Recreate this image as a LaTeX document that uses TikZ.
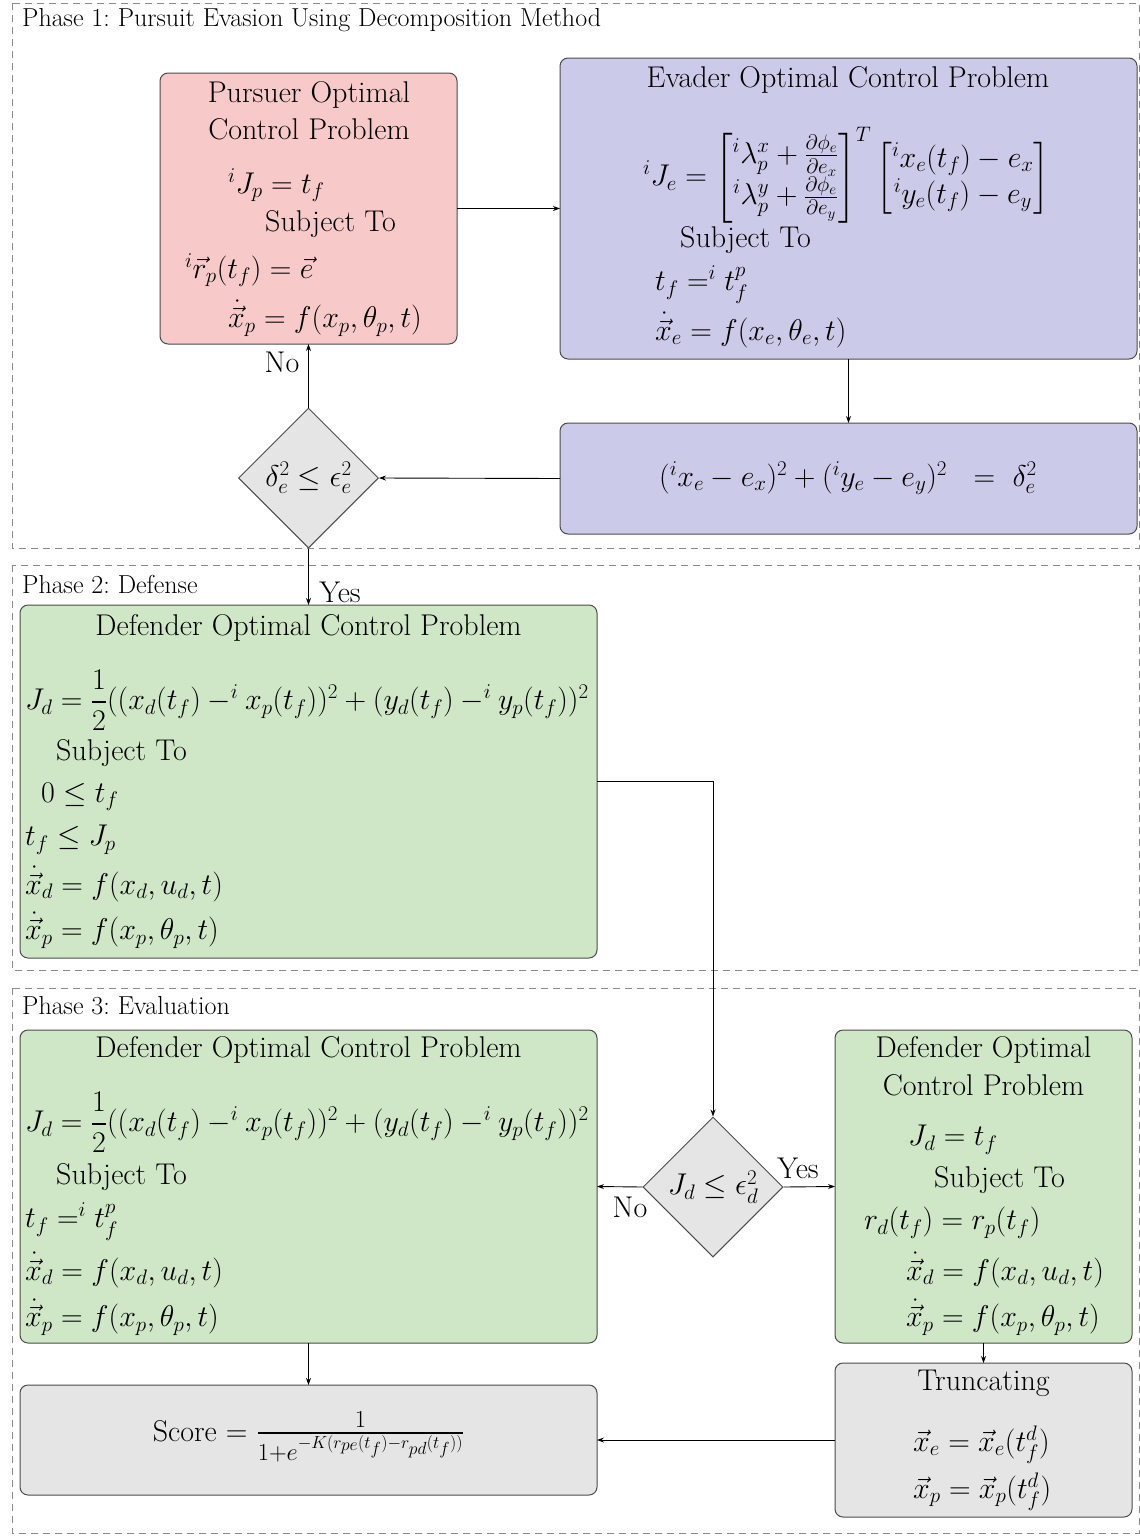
\RequirePackage{fix-cm}
\documentclass[tikz,border=0pt]{standalone}
\usepackage{amsmath,amssymb}
\usetikzlibrary{shapes.geometric,arrows.meta}
\definecolor{pinkfill}{HTML}{F8C9C9}
\definecolor{lavfill}{HTML}{CBCBE9}
\definecolor{greenfill}{HTML}{CFE7C6}
\definecolor{grayfill}{HTML}{E5E5E5}
\definecolor{framegray}{HTML}{8A8A8A}
\newcommand\boxfont{\fontsize{30}{36}\selectfont}
\newcommand\phasefont{\fontsize{26}{31}\selectfont}
\newcommand\fracfont{\fontsize{35}{42}\selectfont}
\tikzset{
  panel/.style={draw=black!70, line width=1pt, rounded corners=8pt, anchor=north west, inner sep=0pt, outer sep=0pt},
  phaseframe/.style={draw=framegray, line width=1pt, dash pattern=on 7pt off 5pt},
  txt/.style={inner sep=0pt, font=\boxfont},
  txtl/.style={inner sep=0pt, font=\boxfont, anchor=west},
  phaselabel/.style={inner sep=0pt, font=\phasefont, anchor=west},
  decision/.style={diamond, draw=black!70, line width=1pt, fill=grayfill, aspect=1, minimum width=140pt, minimum height=140pt, inner sep=0pt, font=\boxfont},
  conn/.style={draw=black, line width=0.9pt, -{Stealth[length=7pt,width=5pt]}},
  lbl/.style={inner sep=0pt, font=\boxfont}
}
\begin{document}
\begin{tikzpicture}[x=1pt,y=-1pt]
\useasboundingbox (0,0) rectangle (1140,1537);
\fill[white] (0,0) rectangle (1140,1537);
% phase frames
\draw[phaseframe] (12,3) rectangle (1139,548);
\draw[phaseframe] (12,565) rectangle (1139,970);
\draw[phaseframe] (12,988) rectangle (1139,1533);
\node[phaselabel] (ph1) at (22,20) {Phase 1:\ Pursuit Evasion Using Decomposition Method};
\node[phaselabel] (ph2) at (22,584) {Phase 2:\ Defense};
\node[phaselabel] (ph3) at (22,1006) {Phase 3:\ Evaluation};

% boxes
\node[panel, fill=pinkfill, minimum width=297pt, minimum height=271pt] (pursuer) at (160,73) {};
\node[panel, fill=lavfill, minimum width=577pt, minimum height=301pt] (evader) at (560,58) {};
\node[panel, fill=lavfill, minimum width=577pt, minimum height=111pt] (delta) at (560,423) {};
\node[decision] (d1) at (308.5,478) {$\delta_e^2 \le \epsilon_e^2$};
\node[panel, fill=greenfill, minimum width=577pt, minimum height=353pt] (def1) at (20,605) {};
\node[panel, fill=greenfill, minimum width=577pt, minimum height=313pt] (def2) at (20,1030) {};
\node[panel, fill=greenfill, minimum width=297pt, minimum height=313pt] (def3) at (835,1030) {};
\node[decision] (d2) at (713,1187) {$J_d \le \epsilon_d^2$};
\node[panel, fill=grayfill, minimum width=297pt, minimum height=154pt] (trunc) at (835,1363) {};
\node[panel, fill=grayfill, minimum width=577pt, minimum height=110pt] (score) at (20,1385) {};

% pursuer text
\node[txt] (p1) at (309,95) {Pursuer Optimal};
\node[txt] (p2) at (309,129) {Control Problem};
\node[txtl] (p3) at (228,185) {${}^{i}J_p = t_f$};
\node[txtl] (p4) at (265,224) {Subject To};
\node[txtl] (p5) at (185,270) {${}^{i}\vec{r}_p(t_f) = \vec{e}$};
\node[txtl] (p6) at (228,318) {$\dot{\vec{x}}_p = f(x_p,\theta_p,t)$};

% evader text
\node[txt] (e1) at (848,80) {Evader Optimal Control Problem};
\node[txtl] (e2) at (643,175) {${}^{i}J_e = \begin{bmatrix} {}^{i}\lambda_p^x + \frac{\partial \phi_e}{\partial e_x}\\ {}^{i}\lambda_p^y + \frac{\partial \phi_e}{\partial e_y}\end{bmatrix}^T \begin{bmatrix} {}^{i}x_e(t_f) - e_x\\ {}^{i}y_e(t_f) - e_y\end{bmatrix}$};
\node[txtl] (e3) at (680,240) {Subject To};
\node[txtl] (e4) at (655,285) {$t_f =^i t_f^p$};
\node[txtl] (e5) at (655,330) {$\dot{\vec{x}}_e = f(x_e,\theta_e,t)$};

% delta text
\node[txt] (dl) at (848,478) {$({}^{i}x_e - e_x)^2 + ({}^{i}y_e - e_y)^2 \ \ = \ \delta_e^2$};

% defender 1 text
\node[txt] (a1) at (308.5,628) {Defender Optimal Control Problem};
\node[txtl] (a2) at (25,700) {$J_d = \dfrac{1}{2}((x_d(t_f) -^i x_p(t_f))^2 + (y_d(t_f) -^i y_p(t_f))^2$};
\node[txtl] (a3) at (56,753) {Subject To};
\node[txtl] (a4) at (41,797) {$0 \le t_f$};
\node[txtl] (a5) at (25,840) {$t_f \le J_p$};
\node[txtl] (a6) at (25,884) {$\dot{\vec{x}}_d = f(x_d,u_d,t)$};
\node[txtl] (a7) at (25,930) {$\dot{\vec{x}}_p = f(x_p,\theta_p,t)$};

% defender 2 text
\node[txt] (b1) at (308.5,1050) {Defender Optimal Control Problem};
\node[txtl] (b2) at (25,1122) {$J_d = \dfrac{1}{2}((x_d(t_f) -^i x_p(t_f))^2 + (y_d(t_f) -^i y_p(t_f))^2$};
\node[txtl] (b3) at (56,1177) {Subject To};
\node[txtl] (b4) at (25,1222) {$t_f =^i t_f^p$};
\node[txtl] (b5) at (25,1270) {$\dot{\vec{x}}_d = f(x_d,u_d,t)$};
\node[txtl] (b6) at (25,1317) {$\dot{\vec{x}}_p = f(x_p,\theta_p,t)$};

% defender 3 text
\node[txt] (c1) at (983.5,1050) {Defender Optimal};
\node[txt] (c2) at (983.5,1085) {Control Problem};
\node[txtl] (c3) at (908,1140) {$J_d = t_f$};
\node[txtl] (c4) at (934,1180) {Subject To};
\node[txtl] (c5) at (864,1223) {$r_d(t_f) = r_p(t_f)$};
\node[txtl] (c6) at (906,1270) {$\dot{\vec{x}}_d = f(x_d,u_d,t)$};
\node[txtl] (c7) at (906,1317) {$\dot{\vec{x}}_p = f(x_p,\theta_p,t)$};

% truncating text
\node[txt] (t1) at (983.5,1383) {Truncating};
\node[txtl] (t2) at (913,1445) {$\vec{x}_e = \vec{x}_e(t_f^d)$};
\node[txtl] (t3) at (913,1492) {$\vec{x}_p = \vec{x}_p(t_f^d)$};

% score text
\node[txt] (s1) at (308.5,1437) {Score $=$ {\fracfont$\frac{1}{1+e^{-K(r_{pe}(t_f) - r_{pd}(t_f))}}$}};

% connectors
\draw[conn] (pursuer.east) -- (evader.west);
\draw[conn] (evader.south) -- (delta.north);
\draw[conn] (delta.west) -- (d1.east);
\draw[conn] (d1.north) -- (pursuer.south);
\draw[conn] (d1.south) -- (def1.north);
\draw[conn] (def1.east) -| (d2.north);
\draw[conn] (d2.west) -- (def2.east);
\draw[conn] (d2.east) -- (def3.west);
\draw[conn] (def2.south) -- (score.north);
\draw[conn] (def3.south) -- (trunc.north);
\draw[conn] (trunc.west) -- (score.east);

% connector labels
\node[lbl] (no1) at (282,362) {No};
\node[lbl] (yes1) at (340,592) {Yes};
\node[lbl] (no2) at (630,1207) {No};
\node[lbl] (yes2) at (798,1168) {Yes};
\end{tikzpicture}
\end{document}
